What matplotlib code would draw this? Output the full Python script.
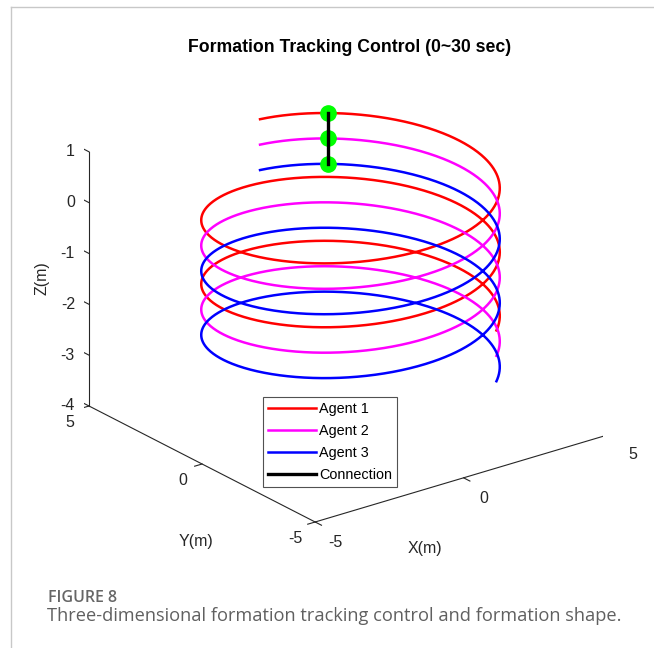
import numpy as np
import matplotlib
matplotlib.use("Agg")
import matplotlib.pyplot as plt
from matplotlib.lines import Line2D
from mpl_toolkits.mplot3d import proj3d

plt.rcParams["font.family"] = ["Liberation Sans", "DejaVu Sans"]

# reference helix for the formation (0~30 s)
t_end = 30.0
radius = 4.0          # m
omega = 0.5           # rad/s
phase0 = np.pi / 2    # start angle
z_rate = -0.1         # m/s
t_marker = 1.0        # s, snapshot of the formation shape

agent_names = ["Agent 1", "Agent 2", "Agent 3"]
agent_colors = ["#ff0000", "#ff00ff", "#0000ff"]
agent_z0 = [1.0, 0.5, 0.0]

x_ticks = [-5, 0, 5]
y_ticks = [-5, 0, 5]
z_ticks = [1, 0, -1, -2, -3, -4]
xlim = (-5, 5)
ylim = (-5, 5)
zlim = (-4, 1)

t = np.linspace(0, t_end, 1501)

fig = plt.figure(figsize=(6.54, 6.48), dpi=100)
W, H = fig.bbox.width, fig.bbox.height
ax = fig.add_axes([0.05, 0.1, 0.9, 0.8], projection="3d")
ax.set_proj_type("ortho")
ax.view_init(elev=23, azim=-127.3)
ax.set_axis_off()
ax.computed_zorder = False

for name, col, z0 in zip(agent_names, agent_colors, agent_z0):
    ang = phase0 - omega * t
    ax.plot(radius * np.cos(ang), radius * np.sin(ang), z0 + z_rate * t,
            color=col, lw=1.8, label=name, zorder=2)

# formation snapshot
ang_m = phase0 - omega * t_marker
mx = [radius * np.cos(ang_m)] * 3
my = [radius * np.sin(ang_m)] * 3
mz = [z0 + z_rate * t_marker for z0 in agent_z0]
ax.plot(mx, my, mz, "o", color="#00ff00", ms=11, zorder=3)
ax.plot(mx, my, mz, color="black", lw=2.4, label="Connection", zorder=4)

# axis lines, ticks and labels drawn by hand (matlab-like box corner)
ac = "#262626"
ax.plot(xlim, [ylim[0]] * 2, [zlim[0]] * 2, color=ac, lw=0.8)
ax.plot([xlim[0]] * 2, ylim, [zlim[0]] * 2, color=ac, lw=0.8)
ax.plot([xlim[0]] * 2, [ylim[1]] * 2, zlim, color=ac, lw=0.8)
tick_fs = 11.5
for v in x_ticks:
    ax.plot([v, v], [ylim[0], ylim[0] - 0.28], [zlim[0]] * 2, color=ac, lw=0.8)
    ax.text(v, ylim[0] - 0.9, zlim[0] - 0.2, str(v), ha="center", va="center",
            fontsize=tick_fs, color=ac)
for v in y_ticks:
    ax.plot([xlim[0], xlim[0] - 0.25], [v, v], [zlim[0]] * 2, color=ac, lw=0.8)
    ax.text(xlim[0] - 0.65, v, zlim[0] - 0.22, str(v), ha="center", va="center",
            fontsize=tick_fs, color=ac)
for v in z_ticks:
    ax.plot([xlim[0]] * 2, [ylim[1], ylim[1] + 0.28], [v, v], color=ac, lw=0.8)
    ax.text(xlim[0], ylim[1] + 0.62, v - 0.14, str(v), ha="right", va="center",
            fontsize=tick_fs, color=ac)
ax.text(-2.0, -5.9, -4.83, "X(m)", ha="center", va="center", fontsize=tick_fs, color=ac)
ax.text(-5.65, -0.59, -5.28, "Y(m)", ha="center", va="center", fontsize=tick_fs, color=ac)
ax.text(-5.0, 7.08, -1.95, "Z(m)", zdir="z", ha="center", va="center",
        fontsize=tick_fs, color=ac)

ax.set_xlim(xlim)
ax.set_ylim(ylim)
ax.set_zlim(zlim)
# the built-in axes are hidden, so drop their tick texts too
ax.set_xticks([])
ax.set_yticks([])
ax.set_zticks([])


def to_px(x, y, z):
    xs, ys, _ = proj3d.proj_transform(np.array([x]), np.array([y]), np.array([z]),
                                      ax.get_proj())
    dx, dy = ax.transData.transform((xs[0], ys[0]))
    return dx, H - dy


# size and place the box: left corner near (89, 406), right corner near (612, 433)
aspect = (1, 1, 0.74)
zoom = 1.0
ax.set_box_aspect(aspect, zoom=zoom)
for _ in range(4):
    fig.canvas.draw()
    pa = to_px(xlim[0], ylim[1], zlim[0])
    pb = to_px(xlim[1], ylim[0], zlim[0])
    zoom *= (612 - 89) / (pb[0] - pa[0])
    ax.set_box_aspect(aspect, zoom=zoom)
    fig.canvas.draw()
    pa = to_px(xlim[0], ylim[1], zlim[0])
    pos = ax.get_position(original=True)
    ax.set_position([pos.x0 + (89 - pa[0]) / W, pos.y0 - (406 - pa[1]) / H,
                     pos.width, pos.height])

h, l = ax.get_legend_handles_labels()
leg = fig.legend(h, l, loc="upper left", bbox_to_anchor=(263 / W, 1 - 397 / H),
                 fontsize=10.4, frameon=True, fancybox=False, borderpad=0.35,
                 handlelength=3.3, handletextpad=0.25, labelspacing=0.56,
                 borderaxespad=0)
leg.get_frame().set_edgecolor("#262626")
leg.get_frame().set_linewidth(0.8)

fig.text(350 / W, 1 - 48 / H, "Formation Tracking Control (0~30 sec)",
         ha="center", va="center", fontsize=12.7, fontweight="bold", color="black")

# page frame and caption
fig.add_artist(Line2D([11 / W, 11 / W], [0, 1 - 7 / H], transform=fig.transFigure,
                      color="#c8c8c8", lw=1))
fig.add_artist(Line2D([11 / W, 1], [1 - 7 / H, 1 - 7 / H], transform=fig.transFigure,
                      color="#c8c8c8", lw=1))
fig.text(48 / W, 1 - 598 / H, "FIGURE 8", ha="left", va="center", fontsize=11.5,
         family="Open Sans", fontweight="semibold", color="#666666")
fig.text(47 / W, 1 - 616 / H,
         "Three-dimensional formation tracking control and formation shape.",
         ha="left", va="center", fontsize=13.15, family="Open Sans", color="#606060")

fig.savefig("out.png", dpi=100)
